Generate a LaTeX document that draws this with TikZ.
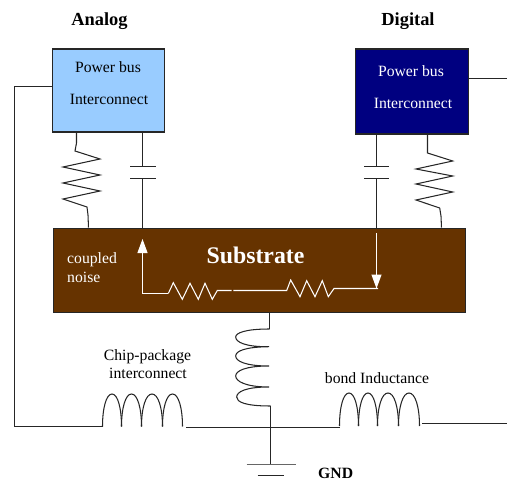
\documentclass[tikz,border=0pt]{standalone}
\usepackage{fontspec}
\setmainfont{Liberation Serif}
\usetikzlibrary{arrows.meta}
\definecolor{analogblue}{HTML}{99CCFF}
\definecolor{digitalblue}{HTML}{000080}
\definecolor{substratebrown}{HTML}{663300}
\tikzset{
  wire/.style={draw=black!85, line width=1.05pt},
  noisewire/.style={draw=white, line width=1.05pt},
  noisearrow/.style={noisewire, -{Triangle[length=14pt,width=10pt]}},
  blockbox/.style={draw=black!85, line width=1.05pt, inner sep=0pt, anchor=north west},
  lbl/.style={font=\fontsize{15.7}{18}\selectfont, inner sep=0pt, align=left},
  title/.style={font=\fontsize{18.4}{20}\selectfont\bfseries, inner sep=0pt},
}
\begin{document}
\begin{tikzpicture}[x=1pt, y=-1pt, >=latex]
        \useasboundingbox (0,0) rectangle (507,487) ;

        % blocks
        \node[blockbox, fill=analogblue, minimum width=112pt, minimum height=83pt] (analog) at (51.5,48.5) {} ;
        \node[blockbox, fill=digitalblue, minimum width=113pt, minimum height=85pt] (digital) at (354.5,48.5) {} ;
        \node[blockbox, fill=substratebrown, minimum width=412pt, minimum height=84pt] (substrate) at (52.5,227.5) {} ;

        \node[title] (analoglbl) at (99.5,21.5) {Analog} ;
        \node[title] (digitallbl) at (408,21) {Digital} ;
        \node[lbl] (apower) at (108,67) {Power bus} ;
        \node[lbl] (ainter) at (109,99) {Interconnect} ;
        \node[lbl, text=white] (dpower) at (411,71) {Power bus} ;
        \node[lbl, text=white] (dinter) at (413,103) {Interconnect} ;
        \node[lbl, text=white, font=\fontsize{23.8}{26}\selectfont\bfseries] (sublbl) at (255.5,255.5) {Substrate} ;
        \node[lbl, text=white, anchor=west] (coupled) at (67,260) {coupled} ;
        \node[lbl, text=white, anchor=west] (noise) at (67,277.5) {noise} ;
        \node[lbl] (chip) at (147.5,357) {Chip-package} ;
        \node[lbl] (chipb) at (148,373) {interconnect} ;
        \node[lbl] (bond) at (377,378) {bond Inductance} ;
        \node[title, font=\fontsize{15.7}{18}\selectfont\bfseries, anchor=west] (gnd) at (318,473) {GND} ;

        % analog side
        \draw[wire] (analog.west |- 0,86.5) -- (14.5,86.5) -- (14.5,426.5) -- (102.7,426.5) ;
        \draw[wire] (76.5,131.5) -- (76.5,143) -- (75,151) -- (100,159) -- (63,167) -- (100,175) -- (63,183) -- (100,191) -- (63,199) -- (87,207) -- (88,215) -- (88.5,227.5) ;
        \draw[wire] (142.5,131.5) -- (142.5,166.5) ;
        \draw[wire] (130,166.5) -- (156,166.5) ;
        \draw[wire] (130,178.5) -- (156,178.5) ;
        \draw[wire] (142.5,178.5) -- (142.5,227.5) ;

        % digital side
        \draw[wire] (digital.east |- 0,78.5) -- (507,78.5) ;
        \draw[wire] (376.5,133.5) -- (376.5,166.5) ;
        \draw[wire] (364,166.5) -- (389.3,166.5) ;
        \draw[wire] (364,178.5) -- (389.3,178.5) ;
        \draw[wire] (376.5,178.5) -- (376.5,227.5) ;
        \draw[wire] (427.5,133.5) -- (427.5,153) -- (452.7,161) -- (416,169) -- (452.7,176) -- (416,184) -- (452.7,192) -- (416,200) -- (439.7,208) -- (441,216) -- (441.5,227.5) ;

        % noise path in the substrate
        \draw[noisearrow] (168.3,293.5) -- (142.5,293.5) -- (142.5,239) ;
        \draw[noisewire] (168.3,293.5) -- (173.3,282.7) -- (182.3,299.3) -- (190,283.3) -- (198.3,299.3) -- (205,283.3) -- (212.3,299.3) -- (217.3,290.5) -- (231.7,290.5) ;
        \draw[noisewire] (233.3,290.5) -- (286.7,290.5) -- (290.7,280) -- (300,296.7) -- (306.7,280.7) -- (315,296.7) -- (322.3,280.7) -- (328.3,296.7) -- (334,288.5) -- (378,288.5) ;
        \draw[noisearrow] (376.5,233) -- (376.5,288.5) ;

        % inductors to ground
        \draw[wire] (substrate.south -| 269.5,0) -- (269.5,329) ;
        \draw[wire] (269.5,329) .. controls (245,329) and (235.7,333) .. (235.7,337) .. controls (235.7,342) and (245,347) .. (269,346.7)
                    .. controls (245,347) and (235.7,351) .. (235.7,356) .. controls (235.7,361) and (245,366) .. (269,366)
                    .. controls (245,366) and (235.7,371) .. (235.7,376) .. controls (235.7,381) and (245,387) .. (269,387)
                    .. controls (245,387) and (236.7,392) .. (236.7,397) .. controls (236.7,402) and (245,406) .. (270.5,406) ;
        \coordinate (junction) at (270.5,427.5) ;
        \coordinate (gndtop) at (270.5,464.5) ;
        \draw[wire] (270.5,406) -- (junction) -- (gndtop) ;
        \draw[draw=black!60, line width=1.5pt] (246.7,464.5) -- (295.7,464.5) ;
        \draw[wire] (257.7,475.5) -- (284,475.5) ;

        \foreach \xa/\xb in {102.5/121.5, 121.5/141.5, 141.5/162.5, 162.5/182.5}
                \draw[wire] (\xa,426.5) .. controls (\xa,408) and ({\xa+0.2*(\xb-\xa)},394) .. ({0.5*(\xa+\xb)},394) .. controls ({\xb-0.2*(\xb-\xa)},394) and (\xb,408) .. (\xb,426.5) ;
        \draw[wire] (186,427.5) -- (junction) -- (339.5,427.5) ;
        \foreach \xa/\xb in {339.5/358.5, 358.5/377.5, 377.5/398.5, 398.5/419.5}
                \draw[wire] (\xa,426) .. controls (\xa,407) and ({\xa+0.2*(\xb-\xa)},393) .. ({0.5*(\xa+\xb)},393) .. controls ({\xb-0.2*(\xb-\xa)},393) and (\xb,407) .. (\xb,426) ;
        \draw[wire] (422,423.5) -- (507,423.5) ;
\end{tikzpicture}
\end{document}
